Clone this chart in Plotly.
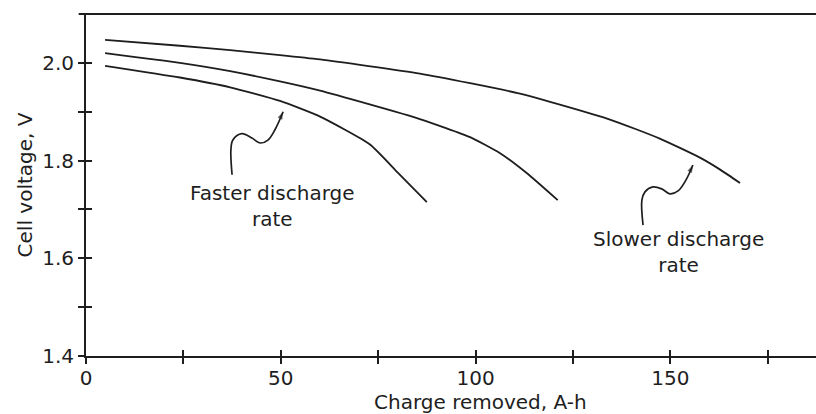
import plotly.graph_objects as go

# Discharge curves: charge removed (A-h) vs cell voltage (V)
slow_charge = [4.9, 24.1, 37.0, 49.8, 60.1, 85.7, 111.4, 134.5, 147.3, 157.6, 162.7, 167.9]
slow_voltage = [2.047, 2.035, 2.026, 2.016, 2.007, 1.978, 1.937, 1.884, 1.845, 1.806, 1.782, 1.754]

mid_charge = [4.9, 24.1, 37.0, 49.8, 60.1, 85.7, 98.6, 106.3, 113.2, 121.1]
mid_voltage = [2.020, 2.000, 1.983, 1.962, 1.943, 1.885, 1.848, 1.815, 1.774, 1.719]

fast_charge = [4.9, 24.1, 37.0, 49.8, 60.1, 72.9, 80.1, 87.5]
fast_voltage = [1.994, 1.970, 1.950, 1.922, 1.890, 1.833, 1.775, 1.715]

# Wavy leader lines pointing from the labels to the curves
fast_leader_x = [37.5, 37.2, 37.7, 40.0, 42.6, 44.7, 46.7, 48.5, 50.6]
fast_leader_y = [1.771, 1.822, 1.842, 1.855, 1.846, 1.836, 1.842, 1.863, 1.900]
slow_leader_x = [143.0, 142.7, 143.5, 145.5, 147.8, 149.9, 152.0, 154.0, 155.8]
slow_leader_y = [1.668, 1.719, 1.736, 1.746, 1.742, 1.732, 1.738, 1.760, 1.791]

x_tick_vals = [0, 25, 50, 75, 100, 125, 150, 175]
x_tick_text = ["0", "", "50", "", "100", "", "150", ""]
y_tick_vals = [1.4, 1.5, 1.6, 1.7, 1.8, 1.9, 2.0]
y_tick_text = ["1.4", "", "1.6", "", "1.8", "", "2.0"]

x_title = "Charge removed, A-h"
y_title = "Cell voltage, V"

x_range = [0, 187.4]
y_range = [1.4, 2.1]

INK = "#1e1e1e"
FONT = "DejaVu Sans"

fig = go.Figure()

for xs, ys in [(slow_charge, slow_voltage), (mid_charge, mid_voltage), (fast_charge, fast_voltage)]:
    fig.add_trace(go.Scatter(x=xs, y=ys, mode="lines",
                             line=dict(color=INK, width=1.8, shape="spline", smoothing=0.5),
                             hoverinfo="skip", showlegend=False))

for xs, ys in [(fast_leader_x, fast_leader_y), (slow_leader_x, slow_leader_y)]:
    sizes = [0] * (len(xs) - 1) + [8]
    fig.add_trace(go.Scatter(x=xs, y=ys, mode="lines+markers",
                             line=dict(color=INK, width=1.7, shape="spline", smoothing=1.0),
                             marker=dict(symbol="arrow", size=sizes, color=INK, angleref="previous",
                                         line=dict(width=0)),
                             hoverinfo="skip", showlegend=False))

# invisible trace on the overlay axes so the inward ticks get drawn
fig.add_trace(go.Scatter(x=[None], y=[None], xaxis="x2", yaxis="y2", showlegend=False))

label_font = dict(family=FONT, size=20, color=INK)
fig.add_annotation(x=48.0, y=1.762, text="Faster discharge<br>rate", showarrow=False,
                   font=label_font, align="center", xanchor="center", yanchor="top")
fig.add_annotation(x=152.0, y=1.668, text="Slower discharge<br>rate", showarrow=False,
                   font=label_font, align="center", xanchor="center", yanchor="top")

# x-axis title placed just under the tick labels
fig.add_annotation(x=0.54, y=0, xref="paper", yref="paper", yshift=-60,
                   text=x_title, showarrow=False, font=label_font,
                   xanchor="center", yanchor="bottom")

# top frame line, slightly overhanging the left axis
fig.add_shape(type="line", xref="paper", yref="paper", x0=-0.01, x1=1, y0=1, y1=1,
              line=dict(color=INK, width=1.8))

axis_common = dict(showgrid=False, zeroline=False, color=INK,
                   tickcolor=INK, tickwidth=1.5, ticklen=6)

fig.update_layout(
    width=816, height=414,
    margin=dict(l=86, r=0, t=14, b=58),
    paper_bgcolor="white", plot_bgcolor="white",
    font=dict(family=FONT, size=20, color=INK),
    xaxis=dict(range=x_range, tickvals=x_tick_vals, ticktext=x_tick_text, ticks="outside",
               showline=True, linecolor=INK, linewidth=1.8, tickfont=dict(size=20),
               ticklabelstandoff=-3, **axis_common),
    yaxis=dict(range=y_range, tickvals=y_tick_vals, ticktext=y_tick_text, ticks="outside",
               showline=True, linecolor=INK, linewidth=1.8, tickfont=dict(size=20),
               title=dict(text=y_title, font=dict(size=20), standoff=4),
               **axis_common),
    xaxis2=dict(overlaying="x", matches="x", range=x_range, tickvals=x_tick_vals, ticks="inside",
                showticklabels=False, showline=False, **axis_common),
    yaxis2=dict(overlaying="y", matches="y", range=y_range, tickvals=y_tick_vals, ticks="inside",
                showticklabels=False, showline=False, **axis_common),
)

fig.write_html("out.html")
